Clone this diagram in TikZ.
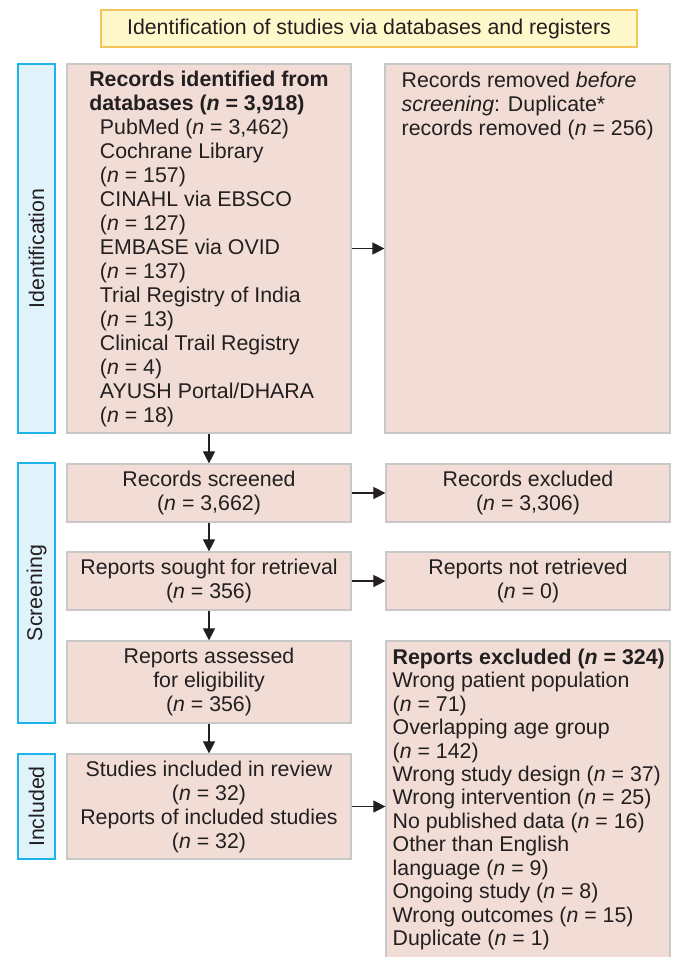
\documentclass[tikz,border=0pt]{standalone}
\usepackage{fontspec}
\setmainfont{Liberation Sans}
\usetikzlibrary{arrows.meta}

\begin{document}
\begin{tikzpicture}[x=0.75pt,y=-0.75pt,
  box/.style={draw=pr_line,fill=pr_box,line width=0.9pt,inner sep=0pt,
    text=pr_text,font=\fontsize{16}{18}\selectfont,align=center},
  side/.style={draw=pr_cyan,fill=pr_sky,line width=0.9pt,inner sep=0pt,
    text=pr_text,font=\fontsize{16}{18}\selectfont,rotate=90},
  txt/.style={inner sep=0pt,text=pr_text,font=\fontsize{16}{18}\selectfont,align=left},
  flow/.style={line width=0.8pt,color=pr_text,-{Triangle[length=9pt,width=9pt]}}]
% ------------------------------------------------ prisma colors
\definecolor{pr_box}{RGB}{241,221,213}   %#F1DDD5
\definecolor{pr_line}{RGB}{200,200,200}  %#C8C8C8
\definecolor{pr_sky}{RGB}{224,243,251}   %#E0F3FB
\definecolor{pr_cyan}{RGB}{30,180,235}   %#1EB4EB
\definecolor{pr_gold}{RGB}{255,248,202}  %#FFF8CA
\definecolor{pr_amber}{RGB}{245,196,90}  %#F5C45A
\definecolor{pr_text}{RGB}{35,31,32}     %#231F20

\useasboundingbox (0,0) rectangle (673,957);

% ------------------------------------------------ heading
\node[draw=pr_amber,fill=pr_gold,line width=0.9pt,text=pr_text,
  font=\fontsize{16}{18}\selectfont,minimum width=402pt,minimum height=27.75pt,
  inner sep=0pt] (head) at (369,28.5) {Identification of studies via databases and registers};

% ------------------------------------------------ phase labels
\node[side,minimum width=276.75pt,minimum height=27.75pt] (identside) at (36.5,248.5) {Identification};
\node[side,minimum width=195pt,minimum height=27.75pt] (screenside) at (36.5,593) {Screening};
\node[side,minimum width=78.75pt,minimum height=27.75pt] (inclside) at (36.5,806.5) {Included};

% ------------------------------------------------ identification
\node[box,minimum width=213pt,minimum height=276.75pt,align=left] (ident) at (209,248.5)
  {\textbf{Records identified from}\\
   \textbf{databases (\textit{n} = 3,918)}\\
   \hspace*{8pt}PubMed (\textit{n} = 3,462)\\
   \hspace*{8pt}Cochrane Library\\
   \hspace*{8pt}(\textit{n} = 157)\\
   \hspace*{8pt}CINAHL via EBSCO\\
   \hspace*{8pt}(\textit{n} = 127)\\
   \hspace*{8pt}EMBASE via OVID\\
   \hspace*{8pt}(\textit{n} = 137)\\
   \hspace*{8pt}Trial Registry of India\\
   \hspace*{8pt}(\textit{n} = 13)\\
   \hspace*{8pt}Clinical Trail Registry\\
   \hspace*{8pt}(\textit{n} = 4)\\
   \hspace*{8pt}AYUSH Portal/DHARA\\
   \hspace*{8pt}(\textit{n} = 18)};
\node[box,minimum width=213.75pt,minimum height=276.75pt] (removed) at (527.5,248.5) {};
\node[txt,anchor=north west] (removedtxt) at ([xshift=12.75pt,yshift=-6pt]removed.north west)
  {Records removed \textit{before}\\
   \textit{screening}: Duplicate*\\
   records removed (\textit{n} = 256)};

% ------------------------------------------------ screening
\node[box,minimum width=213pt,minimum height=43.5pt] (screened) at (209,493)
  {Records screened\\(\textit{n} = 3,662)};
\node[box,minimum width=213pt,minimum height=43.5pt] (recexcl) at (528,493)
  {Records excluded\\(\textit{n} = 3,306)};
\node[box,minimum width=213pt,minimum height=43.5pt] (sought) at (209,581)
  {Reports sought for retrieval\\(\textit{n} = 356)};
\node[box,minimum width=213pt,minimum height=43.5pt] (notretr) at (528,581)
  {Reports not retrieved\\(\textit{n} = 0)};
\node[box,minimum width=213pt,minimum height=61.5pt] (assessed) at (209,682)
  {Reports assessed\\for eligibility\\(\textit{n} = 356)};
\node[box,minimum width=213pt,minimum height=250.5pt] (repexcl) at (528,808) {};
\node[txt,anchor=north west,font=\fontsize{16}{17.6}\selectfont] (repexcltxt)
  at ([xshift=5.25pt,yshift=-6pt]repexcl.north west)
  {\textbf{Reports excluded (\textit{n} = 324)}\\
   Wrong patient population\\
   (\textit{n} = 71)\\
   Overlapping age group\\
   (\textit{n} = 142)\\
   Wrong study design (\textit{n} = 37)\\
   Wrong intervention (\textit{n} = 25)\\
   No published data (\textit{n} = 16)\\
   Other than English\\
   language (\textit{n} = 9)\\
   Ongoing study (\textit{n} = 8)\\
   Wrong outcomes (\textit{n} = 15)\\
   Duplicate (\textit{n} = 1)};

% ------------------------------------------------ included
\node[box,minimum width=213pt,minimum height=78.75pt] (included) at (209,806.5)
  {Studies included in review\\(\textit{n} = 32)\\Reports of included studies\\(\textit{n} = 32)};

% ------------------------------------------------ arrows
\draw[flow] (ident) -- (screened);
\draw[flow] (screened) -- (sought);
\draw[flow] (sought) -- (assessed);
\draw[flow] (assessed) -- (included);
\draw[flow] (ident) -- (removed);
\draw[flow] (screened) -- (recexcl);
\draw[flow] (sought) -- (notretr);
\draw[flow] (included.east) -- (included.east -| repexcl.west);

\end{tikzpicture}
\end{document}
